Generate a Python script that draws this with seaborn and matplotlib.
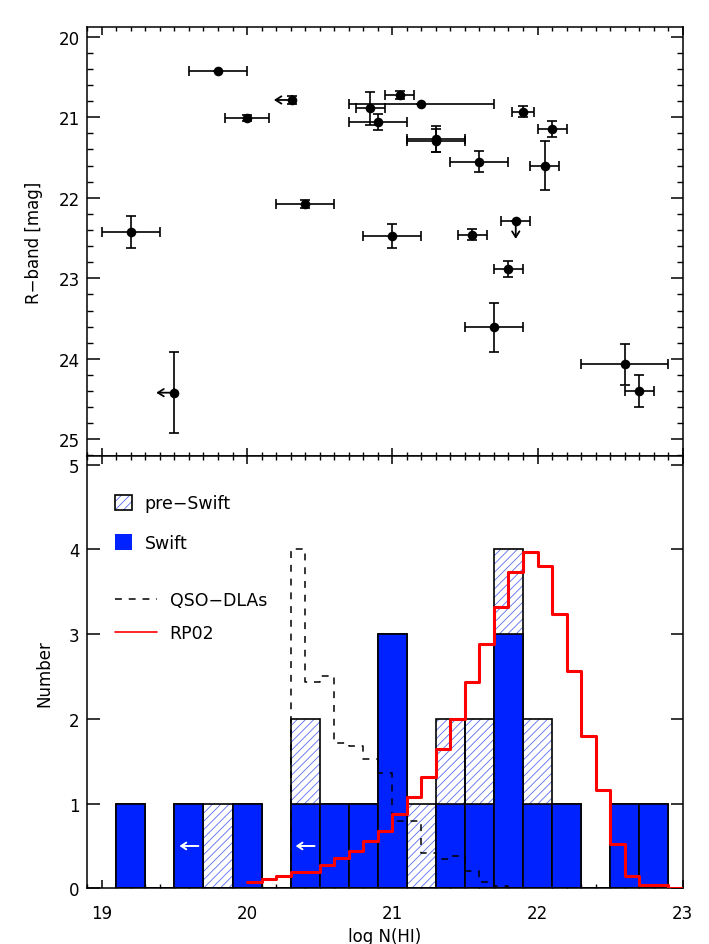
import numpy as np
import matplotlib
matplotlib.use("Agg")
import matplotlib.pyplot as plt
import seaborn as sns
from matplotlib.patches import Patch
from matplotlib.lines import Line2D
from matplotlib.ticker import MultipleLocator

# ---------------- data: top panel (R-band vs log N(HI)) ----------------
log_nhi = [19.80, 20.00, 20.31, 20.85, 21.20, 20.90, 21.05, 21.90, 22.10, 21.30, 21.30,
           21.60, 22.05, 20.40, 19.20, 21.00, 21.55, 21.85, 21.80, 21.70, 22.60, 22.70, 19.50]
r_mag = [20.42, 21.01, 20.785, 20.89, 20.83, 21.06, 20.72, 20.93, 21.15, 21.27, 21.29,
         21.55, 21.60, 22.08, 22.42, 22.47, 22.46, 22.29, 22.88, 23.61, 24.07, 24.40, 24.42]
nhi_err_lo = [0.2, 0.15, 0.0, 0.1, 0.5, 0.2, 0.1, 0.075, 0.1, 0.2, 0.2,
              0.2, 0.1, 0.2, 0.2, 0.2, 0.1, 0.1, 0.1, 0.2, 0.3, 0.1, 0.0]
nhi_err_hi = [0.2, 0.15, 0.0, 0.1, 0.5, 0.2, 0.1, 0.075, 0.1, 0.2, 0.2,
              0.2, 0.1, 0.2, 0.2, 0.2, 0.1, 0.1, 0.1, 0.2, 0.3, 0.1, 0.0]
r_err = [0.0, 0.04, 0.05, 0.2, 0.0, 0.1, 0.05, 0.07, 0.1, 0.16, 0.14,
         0.13, 0.3, 0.05, 0.2, 0.15, 0.07, 0.0, 0.1, 0.3, 0.25, 0.2, 0.5]
limit_flag = ["", "", "left", "", "", "", "", "", "", "", "",
              "", "", "", "", "", "", "down", "", "", "", "", "left"]

# ---------------- data: bottom panel (histograms) ----------------
bin_left = [19.1, 19.3, 19.5, 19.7, 19.9, 20.1, 20.3, 20.5, 20.7, 20.9,
            21.1, 21.3, 21.5, 21.7, 21.9, 22.1, 22.3, 22.5, 22.7]
swift_counts = [1, 0, 1, 0, 1, 0, 1, 1, 1, 3, 0, 1, 1, 3, 1, 1, 0, 1, 1]
preswift_counts = [0, 0, 0, 1, 0, 0, 1, 0, 0, 0, 1, 1, 1, 1, 1, 0, 0, 0, 0]
swift_limit_bins = [19.5, 20.3]

qso_left = [20.3, 20.4, 20.5, 20.6, 20.7, 20.8, 20.9, 21.0, 21.1, 21.2,
            21.3, 21.4, 21.5, 21.6, 21.7]
qso_vals = [4.0, 2.44, 2.51, 1.71, 1.68, 1.53, 1.36, 0.80, 0.80, 0.42,
            0.35, 0.38, 0.21, 0.08, 0.03]

rp02_left = [20.0, 20.1, 20.2, 20.3, 20.4, 20.5, 20.6, 20.7, 20.8, 20.9,
             21.0, 21.1, 21.2, 21.3, 21.4, 21.5, 21.6, 21.7, 21.8, 21.9,
             22.0, 22.1, 22.2, 22.3, 22.4, 22.5, 22.6, 22.7, 22.8, 22.9]
rp02_vals = [0.08, 0.11, 0.15, 0.19, 0.19, 0.27, 0.36, 0.44, 0.56, 0.68,
             0.88, 1.08, 1.32, 1.64, 2.00, 2.44, 2.88, 3.32, 3.73, 3.97,
             3.81, 3.24, 2.56, 1.80, 1.16, 0.52, 0.15, 0.04, 0.04, 0.0]

# ---------------- style ----------------
sns.set_theme(style="white")
plt.rcParams["font.family"] = ["DejaVu Sans"]
plt.rcParams.update({
    "font.size": 12,
    "axes.linewidth": 1.1,
    "axes.edgecolor": "black",
    "axes.labelcolor": "black",
    "text.color": "black",
    "xtick.color": "black",
    "ytick.color": "black",
    "xtick.labelcolor": "black",
    "ytick.labelcolor": "black",
    "hatch.linewidth": 0.6,
})

BLUE = "#0022ff"
HATCH_BLUE = "#5a6cf0"
BW = 0.2

fig = plt.figure(figsize=(7.09, 9.45), dpi=100)
L, R_ = 0.1231, 0.9630
ax1 = fig.add_axes([L, 0.5161, R_ - L, 0.9707 - 0.5161])
ax2 = fig.add_axes([L, 0.0589, R_ - L, 0.5161 - 0.0589])

# ---------------- top panel ----------------
ax1.errorbar(log_nhi, r_mag, xerr=[nhi_err_lo, nhi_err_hi], yerr=[r_err, r_err],
             fmt="none", ecolor="black", elinewidth=1.2, capsize=3.5, capthick=1.2, zorder=3)
sns.scatterplot(x=log_nhi, y=r_mag, color="black", s=48, edgecolor="black",
                linewidth=0, ax=ax1, zorder=4)
for xv, yv, fl in zip(log_nhi, r_mag, limit_flag):
    if fl == "left":
        tgt = (xv - 0.125, yv)
    elif fl == "down":
        tgt = (xv, yv + 0.22)
    else:
        continue
    ax1.annotate("", xy=tgt, xytext=(xv, yv),
                 arrowprops=dict(arrowstyle="->,head_length=0.35,head_width=0.22",
                                 lw=1.3, color="black", shrinkA=0, shrinkB=0), zorder=3)

ax1.set_xlim(18.9, 23.0)
ax1.set_ylim(25.21, 19.875)
ax1.xaxis.set_major_locator(MultipleLocator(1))
ax1.xaxis.set_minor_locator(MultipleLocator(0.1))
ax1.yaxis.set_major_locator(MultipleLocator(1))
ax1.yaxis.set_minor_locator(MultipleLocator(0.2))
ax1.tick_params(axis="x", which="both", direction="in", top=True, bottom=True, labelbottom=False)
ax1.tick_params(axis="y", which="both", direction="in", left=True, right=True, pad=5.5, labelsize=12)
ax1.tick_params(axis="x", which="major", length=6, width=1.1)
ax1.tick_params(axis="x", which="minor", length=3, width=1.0)
ax1.tick_params(axis="y", which="major", length=9, width=1.1)
ax1.tick_params(axis="y", which="minor", length=4.5, width=1.0)
ax1.set_ylabel("R\u2212band [mag]", fontsize=12)
ax1.yaxis.set_label_coords(-0.074, 0.5)
ax1.set_xlabel("")

# ---------------- bottom panel ----------------
bin_left_a = np.array(bin_left, dtype=float)
centers = list(bin_left_a + BW / 2)
total = list(np.array(swift_counts) + np.array(preswift_counts))
brange = (bin_left[0], bin_left[-1] + BW)

# hatched (pre-Swift stacked on Swift): hatch layer, then black outline
sns.histplot(x=centers, weights=total, binwidth=BW, binrange=brange, ax=ax2, color="white",
             edgecolor=HATCH_BLUE, linewidth=0, hatch="////", alpha=1, zorder=1)
sns.histplot(x=centers, weights=total, binwidth=BW, binrange=brange, ax=ax2, fill=False,
             color="black", linewidth=1.2, zorder=1.5)
# Swift bars
sns.histplot(x=centers, weights=swift_counts, binwidth=BW, binrange=brange, ax=ax2, color=BLUE,
             edgecolor="black", linewidth=1.2, alpha=1, zorder=2)

# white arrows in Swift limit bins
for bl in swift_limit_bins:
    ax2.annotate("", xy=(bl + 0.035, 0.5), xytext=(bl + 0.165, 0.5),
                 arrowprops=dict(arrowstyle="->,head_length=0.3,head_width=0.2",
                                 lw=1.4, color="white", shrinkA=0, shrinkB=0), zorder=3)

# QSO-DLAs dashed step
qso_edges = list(qso_left) + [qso_left[-1] + 0.1]
qx = [qso_left[0]] + qso_edges + [qso_edges[-1]]
qy = [0.0] + list(qso_vals) + [qso_vals[-1], 0.0]
sns.lineplot(x=qx, y=qy, drawstyle="steps-post", estimator=None, sort=False,
             color="black", linewidth=1.1, linestyle=(0, (4.5, 4.5)), ax=ax2, zorder=4)

# RP02 red step
rp_edges = list(rp02_left) + [rp02_left[-1] + 0.1]
ry = list(rp02_vals) + [rp02_vals[-1]]
sns.lineplot(x=rp_edges, y=ry, drawstyle="steps-post", estimator=None, sort=False,
             color="red", linewidth=2.2, ax=ax2, zorder=5)

ax2.set_xlim(18.9, 23.0)
ax2.set_ylim(0, 5.1)
ax2.xaxis.set_major_locator(MultipleLocator(1))
ax2.xaxis.set_minor_locator(MultipleLocator(0.1))
ax2.yaxis.set_major_locator(MultipleLocator(1))
ax2.tick_params(axis="x", which="both", direction="in", top=True, bottom=True, pad=11, labelsize=12)
ax2.tick_params(axis="y", which="both", direction="in", left=True, right=True, pad=5.5, labelsize=12)
ax2.tick_params(axis="x", which="major", length=6, width=1.1)
ax2.tick_params(axis="x", which="minor", length=3, width=1.0)
ax2.tick_params(axis="y", which="major", length=9, width=1.1)
ax2.set_ylabel("Number", fontsize=12)
ax2.yaxis.set_label_coords(-0.057, 0.5)
ax2.set_xlabel("log N(HI)", fontsize=12)
ax2.xaxis.set_label_coords(0.5, -0.089)
ax2.xaxis.label.set_verticalalignment("top")

# legends
hatch_handle = (Patch(facecolor="white", edgecolor=HATCH_BLUE, hatch="////", linewidth=0),
                Patch(facecolor="none", edgecolor="black", linewidth=1.2))
swift_handle = Patch(facecolor=BLUE, edgecolor=BLUE, linewidth=0)
leg1 = ax2.legend([hatch_handle, swift_handle], ["pre\u2212Swift", "Swift"],
                  loc="upper left", bbox_to_anchor=(0.0465, 0.912), frameon=False,
                  borderpad=0, borderaxespad=0, handlelength=1.0, handleheight=1.0,
                  handletextpad=0.72, labelspacing=1.25, fontsize=12.5, labelcolor="black")
ax2.add_artist(leg1)
qso_handle = Line2D([], [], color="black", linewidth=1.1, linestyle=(0, (4.5, 4.5)))
rp_handle = Line2D([], [], color="red", linewidth=1.2)
ax2.legend([qso_handle, rp_handle], ["QSO\u2212DLAs", "RP02"],
           loc="upper left", bbox_to_anchor=(0.0465, 0.688), frameon=False,
           borderpad=0, borderaxespad=0, handlelength=2.4, handletextpad=0.75,
           labelspacing=0.85, fontsize=12.5, labelcolor="black")

for ax in (ax1, ax2):
    for sp in ax.spines.values():
        sp.set_visible(True)
        sp.set_color("black")
        sp.set_linewidth(1.1)

fig.savefig("out.png", dpi=100)
